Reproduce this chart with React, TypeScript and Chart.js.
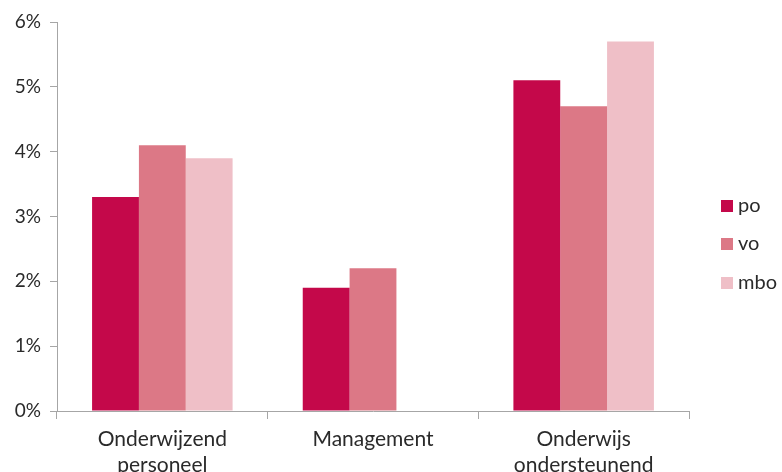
import React, { useEffect, useRef } from "react";
import { Chart, registerables } from "chart.js";

Chart.register(...registerables);

const categories: string[][] = [
  ["Onderwijzend", "personeel"],
  ["Management"],
  ["Onderwijs", "ondersteunend"],
];
const seriesNames = ["po", "vo", "mbo"];
const poValues = [3.3, 1.9, 5.1];
const voValues = [4.1, 2.2, 4.7];
const mboValues: (number | null)[] = [3.9, null, 5.7];
const colors = ["#C4084A", "#DC7886", "#EFBFC7"];
const yTicks = [0, 1, 2, 3, 4, 5, 6];

const FONT = "Lato, 'Open Sans', sans-serif";
const TEXT = "#2a2a2a";
const AXIS = "#A6A6A6";

const legendPlugin = {
  id: "customLegend",
  afterDraw(chart: any) {
    const ctx = chart.ctx;
    ctx.save();
    const ys = [206, 244, 283];
    chart.data.datasets.forEach((ds: any, i: number) => {
      const y = ys[i];
      ctx.fillStyle = ds.backgroundColor;
      ctx.fillRect(721, y - 6, 12, 12);
      ctx.fillStyle = TEXT;
      ctx.font = `20px ${FONT}`;
      ctx.textBaseline = "middle";
      ctx.textAlign = "left";
      ctx.fillText(ds.label, 738, y);
    });
    ctx.restore();
  },
};

export default function App() {
  const ref = useRef<HTMLCanvasElement>(null);
  useEffect(() => {
    if (!ref.current) return;
    const chart = new Chart(ref.current, {
      type: "bar",
      data: {
        labels: categories as any,
        datasets: [
          { label: seriesNames[0], data: poValues, backgroundColor: colors[0] },
          { label: seriesNames[1], data: voValues, backgroundColor: colors[1] },
          { label: seriesNames[2], data: mboValues, backgroundColor: colors[2] },
        ],
      },
      options: {
        responsive: false,
        animation: false,
        layout: { padding: { top: 22, right: 93, left: 0, bottom: 0 } },
        plugins: { legend: { display: false }, tooltip: { enabled: false } },
        datasets: { bar: { categoryPercentage: 0.667, barPercentage: 1 } },
        scales: {
          x: {
            grid: {
              offset: true,
              drawOnChartArea: false,
              tickLength: 8,
              color: AXIS,
            },
            border: { color: AXIS, width: 1 },
            ticks: {
              color: TEXT,
              font: { size: 21, family: FONT, lineHeight: 1.2 },
              padding: 8,
              maxRotation: 0,
              autoSkip: false,
            },
            afterFit(scale: any) {
              scale.height = 61;
            },
          },
          y: {
            min: 0,
            max: 6,
            afterBuildTicks(scale: any) {
              scale.ticks = yTicks.map((v) => ({ value: v }));
            },
            grid: { drawOnChartArea: false, tickLength: 7, color: AXIS },
            border: { color: AXIS, width: 1 },
            ticks: {
              color: TEXT,
              font: { size: 19, family: FONT },
              padding: 9,
              callback: (v: any) => `${v}%`,
            },
            afterFit(scale: any) {
              scale.width = 57;
            },
          },
        },
      },
      plugins: [legendPlugin],
    });
    return () => chart.destroy();
  }, []);
  return (
    <div style={{ position: "fixed", left: 0, top: 0, width: 782, height: 472, background: "#fff" }}>
      <canvas ref={ref} width={782} height={472} />
    </div>
  );
}
